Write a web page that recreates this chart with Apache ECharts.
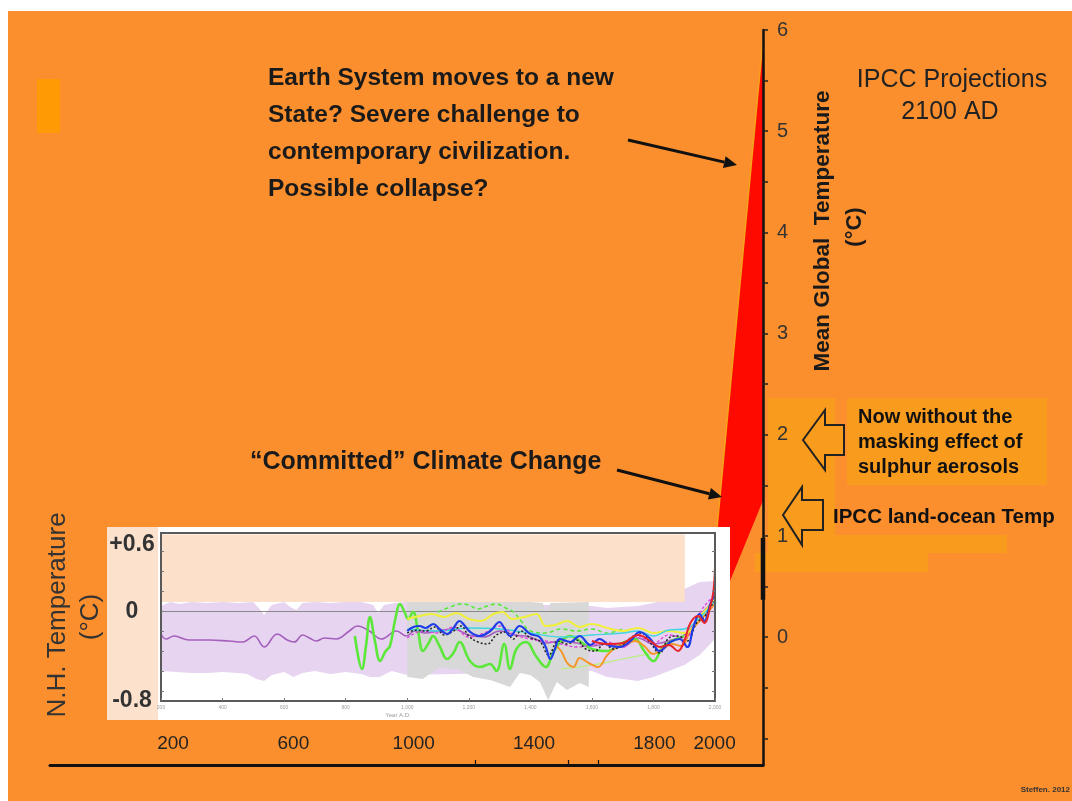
<!DOCTYPE html>
<html><head><meta charset="utf-8">
<script src="https://cdn.jsdelivr.net/npm/echarts@6/dist/echarts.min.js"></script>
<style>html,body{margin:0;padding:0;background:#fff;}#c{width:1072px;height:801px;}</style>
</head><body><div id="c"></div>
<script>
// ---------- tick labels ----------
const mainYLabels = [0, 1, 2, 3, 4, 5, 6];
const mainYTicks = [-1, -0.5, 0, 0.5, 1, 1.5, 2, 2.5, 3, 3.5, 4, 4.5, 5, 5.5, 6];
const mainXLabels = [200, 600, 1000, 1400, 1800, 2000];
const mainXMarks = [1205, 1513, 1613];
const insetXTicks = [200, 400, 600, 800, 1000, 1200, 1400, 1600, 1800, 2000];
const insetYTicks = [-0.8, -0.6, -0.4, -0.2, 0, 0.2, 0.4, 0.6];
const insetYLabels = [0.6, 0, -0.8];

// ---------- IPCC projection wedge (year, °C) ----------
const projUpper = [[2000, 0.76], [2100, 5.9]];
const projLower = [[2000, 0.17], [2100, 1.35]];
const observedRange = [[2100, 0.37], [2100, 0.98]];

// ---------- N.H. temperature reconstructions (year, °C) ----------
const purpleUpper = [[200,0.05],[230,0.09],[260,0.07],[300,0.09],[350,0.08],[400,0.09],[450,0.08],[500,0.09],[520,0.02],[535,-0.04],[560,0.06],[600,0.09],[620,0.04],[640,0.01],[660,0.08],[700,0.09],[750,0.08],[800,0.09],[850,0.09],[890,0.06],[905,-0.02],[925,0.06],[960,0.08],[1000,0.09],[1600,0.05],[1650,0.03],[1700,0.04],[1750,0.05],[1800,0.08],[1850,0.14],[1900,0.22],[1950,0.29],[2000,0.30]];
const purpleLower = [[200,-0.60],[250,-0.61],[300,-0.62],[350,-0.62],[400,-0.61],[450,-0.62],[480,-0.63],[510,-0.68],[535,-0.70],[560,-0.64],[600,-0.61],[630,-0.66],[660,-0.62],[700,-0.60],[750,-0.63],[800,-0.61],[850,-0.63],[880,-0.66],[910,-0.66],[950,-0.60],[1000,-0.64],[1600,-0.60],[1650,-0.66],[1700,-0.68],[1750,-0.70],[1800,-0.66],[1850,-0.60],[1900,-0.54],[1950,-0.44],[2000,-0.28]];
const grayUpper = [[1000,0.09],[1200,0.09],[1400,0.09],[1440,0.08],[1452,-0.01],[1466,0.08],[1590,0.09]];
const grayLower = [[1000,-0.66],[1050,-0.68],[1106,-0.56],[1171,-0.59],[1214,-0.66],[1269,-0.69],[1334,-0.76],[1366,-0.62],[1400,-0.64],[1431,-0.71],[1458,-0.89],[1486,-0.71],[1519,-0.79],[1561,-0.72],[1590,-0.76]];
const peachCover = [[203, 0.09, 1902, 0.765]];

const purpleLine = [[200,-0.23],[216,-0.28],[242,-0.25],[291,-0.29],[356,-0.29],[420,-0.30],[464,-0.31],[503,-0.25],[535,-0.36],[578,-0.23],[610,-0.29],[633,-0.31],[660,-0.24],[682,-0.27],[705,-0.30],[731,-0.27],[770,-0.28],[812,-0.20],[838,-0.15],[877,-0.20],[916,-0.28],[965,-0.20],[998,-0.25],[1024,-0.20],[1060,-0.22],[1100,-0.20],[1150,-0.18],[1200,-0.24],[1250,-0.26],[1300,-0.20],[1350,-0.24],[1400,-0.26],[1450,-0.32],[1500,-0.30],[1550,-0.32],[1600,-0.35],[1650,-0.33],[1700,-0.36],[1750,-0.27],[1800,-0.33],[1850,-0.30],[1900,-0.24],[1950,-0.05],[2000,0.12]];
const greenLine = [[830,-0.25],[853,-0.58],[866,-0.35],[879,-0.06],[895,-0.30],[912,-0.50],[930,-0.40],[944,-0.35],[960,-0.10],[977,0.07],[990,0.00],[1003,-0.08],[1019,-0.01],[1035,-0.20],[1051,-0.40],[1068,-0.33],[1084,-0.25],[1105,-0.35],[1129,-0.48],[1150,-0.42],[1170,-0.31],[1204,-0.50],[1236,-0.56],[1269,-0.53],[1290,-0.60],[1315,-0.33],[1334,-0.58],[1355,-0.38],[1386,-0.31],[1418,-0.45],[1450,-0.56],[1475,-0.41],[1500,-0.30],[1530,-0.25],[1560,-0.30],[1600,-0.38],[1650,-0.40],[1700,-0.32],[1740,-0.28],[1770,-0.40],[1800,-0.50],[1830,-0.36],[1860,-0.30],[1900,-0.25]];
const greenDashed = [[1100,-0.01],[1140,0.04],[1175,0.07],[1200,0.06],[1230,0.02],[1260,0.05],[1290,0.07],[1320,0.03],[1345,-0.01],[1370,-0.10],[1400,-0.20],[1450,-0.22],[1500,-0.18],[1550,-0.20],[1600,-0.18],[1650,-0.22],[1700,-0.18]];
const lightGreen = [[1500,-0.58],[1600,-0.54],[1700,-0.48],[1800,-0.42]];
const orangeLine = [[1480,-0.34],[1500,-0.40],[1520,-0.52],[1540,-0.56],[1560,-0.47],[1590,-0.52],[1620,-0.56],[1650,-0.44],[1680,-0.36],[1710,-0.33],[1740,-0.30],[1770,-0.35],[1800,-0.43],[1830,-0.38],[1860,-0.33],[1890,-0.35],[1920,-0.20],[1950,-0.10],[1980,0.00],[2000,0.08]];
const yellowLine = [[1000,-0.08],[1040,-0.05],[1080,-0.03],[1120,-0.06],[1160,-0.02],[1200,-0.08],[1240,-0.10],[1280,-0.03],[1310,-0.01],[1340,-0.08],[1380,-0.06],[1420,-0.03],[1450,-0.15],[1480,-0.14],[1520,-0.10],[1560,-0.16],[1600,-0.13],[1650,-0.17],[1700,-0.20],[1750,-0.17],[1800,-0.22],[1850,-0.20],[1900,-0.22],[1950,-0.06],[2000,0.12]];
const cyanLine = [[1000,-0.18],[1100,-0.20],[1200,-0.17],[1300,-0.18],[1400,-0.22],[1500,-0.26],[1600,-0.24],[1700,-0.22],[1750,-0.20],[1800,-0.25],[1850,-0.19],[1900,-0.18],[1950,-0.07],[2000,0.10]];
const magentaLine = [[1000,-0.27],[1050,-0.20],[1100,-0.22],[1150,-0.16],[1200,-0.26],[1250,-0.22],[1300,-0.15],[1350,-0.24],[1400,-0.28],[1450,-0.30],[1500,-0.33],[1550,-0.36],[1600,-0.34],[1650,-0.31],[1700,-0.36],[1750,-0.25],[1800,-0.32],[1850,-0.24],[1900,-0.27],[1950,-0.02],[1980,0.10],[2000,0.14]];
const blackDashed = [[1000,-0.22],[1030,-0.19],[1060,-0.20],[1090,-0.16],[1120,-0.24],[1150,-0.20],[1175,-0.15],[1200,-0.25],[1230,-0.31],[1260,-0.33],[1290,-0.24],[1320,-0.21],[1345,-0.28],[1370,-0.20],[1400,-0.27],[1430,-0.30],[1460,-0.44],[1490,-0.30],[1520,-0.33],[1550,-0.29],[1580,-0.38],[1610,-0.40],[1640,-0.33],[1670,-0.38],[1700,-0.34],[1730,-0.26],[1760,-0.22],[1790,-0.32],[1820,-0.42],[1850,-0.27],[1880,-0.25],[1910,-0.30],[1940,-0.12],[1965,-0.06],[1985,0.04],[2000,0.10]];
const blueLine = [[1000,-0.20],[1020,-0.16],[1040,-0.15],[1060,-0.17],[1085,-0.13],[1105,-0.18],[1130,-0.23],[1150,-0.17],[1170,-0.10],[1185,-0.14],[1205,-0.21],[1235,-0.25],[1270,-0.20],[1300,-0.11],[1315,-0.17],[1335,-0.25],[1365,-0.15],[1400,-0.23],[1430,-0.26],[1450,-0.36],[1465,-0.48],[1480,-0.38],[1495,-0.28],[1530,-0.31],[1560,-0.25],[1595,-0.34],[1625,-0.28],[1660,-0.35],[1690,-0.36],[1725,-0.30],[1755,-0.21],[1790,-0.28],[1820,-0.40],[1855,-0.31],[1885,-0.28],[1910,-0.36],[1930,-0.16],[1950,-0.03],[1965,-0.10],[1985,0.07],[2000,0.17]];
const redLine = [[1600,-0.30],[1650,-0.33],[1700,-0.32],[1750,-0.24],[1790,-0.30],[1820,-0.36],[1850,-0.34],[1880,-0.40],[1900,-0.30],[1920,-0.12],[1945,-0.05],[1965,-0.12],[1985,0.05],[1995,0.20],[2000,0.44]];

// ---------- helpers ----------
const FONT = 'Liberation Sans, Arial, sans-serif';
function band(upper, lower, color, xi, yi, z, clip) {
  return {
    type: 'custom', xAxisIndex: xi, yAxisIndex: yi, z: z, silent: true, clip: clip,
    data: [0],
    renderItem: function (params, api) {
      const pts = upper.map(p => api.coord(p)).concat(lower.slice().reverse().map(p => api.coord(p)));
      return { type: 'polygon', shape: { points: pts }, style: { fill: color } };
    }
  };
}
function line(data, color, width, dash, z) {
  return {
    type: 'line', xAxisIndex: 1, yAxisIndex: 1, data: data, smooth: 0.4, symbol: 'none', silent: true, z: z || 6,
    lineStyle: { color: color, width: width, type: dash || 'solid' }
  };
}
function txt(text, x, y, style, extra) {
  return Object.assign({
    type: 'text', x: x, y: y, z: 30, silent: true,
    style: Object.assign({ text: text, fill: '#1a1a1a', fontFamily: FONT, fontSize: 20, textAlign: 'left', textVerticalAlign: 'middle' }, style || {})
  }, extra || {});
}
function rect(x, y, w, h, fill, z) {
  return { type: 'rect', shape: { x: x, y: y, width: w, height: h }, style: { fill: fill }, z: z, silent: true };
}
function arrow(x1, y1, x2, y2) {
  const dx = x2 - x1, dy = y2 - y1, L = Math.sqrt(dx * dx + dy * dy), ux = dx / L, uy = dy / L;
  const hl = 13, hw = 6;
  const bx = x2 - ux * hl, by = y2 - uy * hl;
  return [
    { type: 'line', shape: { x1: x1, y1: y1, x2: bx, y2: by }, style: { stroke: '#111', lineWidth: 3 }, z: 30, silent: true },
    { type: 'polygon', shape: { points: [[x2, y2], [bx - uy * hw, by + ux * hw], [bx + uy * hw, by - ux * hw]] }, style: { fill: '#111' }, z: 30, silent: true }
  ];
}
function blockArrow(pts) {
  return { type: 'polygon', shape: { points: pts }, style: { fill: '#F99B1D', stroke: '#222', lineWidth: 2 }, z: 30, silent: true };
}

const chart = echarts.init(document.getElementById('c'), null, { renderer: 'canvas' });
const option = {
  animation: false,
  backgroundColor: '#FB8F2E',
  grid: [
    { left: 50, top: 30, width: 713, height: 735 },
    { left: 161, top: 533, width: 554, height: 168, show: true, backgroundColor: 'transparent', borderColor: '#5a5a5a', borderWidth: 2, z: 9 },
    { left: 714, top: 30, width: 49, height: 735 },
    { left: 161, top: 533, width: 554, height: 168 }
  ],
  xAxis: [
    {
      type: 'value', gridIndex: 0, min: -209, max: 2161, z: 5,
      axisLine: { show: true, onZero: false, lineStyle: { color: '#111', width: 3 } },
      axisTick: { show: true, inside: true, length: 5, customValues: mainXMarks, lineStyle: { color: '#111', width: 1.2 } },
      axisLabel: { show: true, inside: true, margin: 12, customValues: mainXLabels, color: '#222', fontSize: 19, fontFamily: FONT,
        formatter: v => String(v) },
      splitLine: { show: false }
    },
    {
      type: 'value', gridIndex: 1, min: 200, max: 2000, z: 9,
      axisLine: { show: false, onZero: false },
      axisTick: { show: true, inside: true, length: 3, customValues: insetXTicks, lineStyle: { color: '#777', width: 1 } },
      axisLabel: { show: true, margin: 4, customValues: insetXTicks, color: '#9a9a9a', fontSize: 5, fontFamily: FONT,
        formatter: v => v >= 1000 ? v.toLocaleString('en-US') : String(v) },
      splitLine: { show: false }
    },
    { type: 'value', gridIndex: 2, min: 2000, max: 2100, show: false },
    { type: 'value', gridIndex: 3, min: 200, max: 2000, show: false }
  ],
  yAxis: [
    {
      type: 'value', gridIndex: 0, position: 'right', min: -1.263, max: 6, z: 5,
      axisLine: { show: true, onZero: false, lineStyle: { color: '#111', width: 2.5 } },
      axisTick: { show: true, length: 5, customValues: mainYTicks, lineStyle: { color: '#222', width: 1.5 } },
      axisLabel: { show: true, margin: 14, customValues: mainYLabels, color: '#333', fontSize: 20, fontFamily: FONT },
      splitLine: { show: false }
    },
    {
      type: 'value', gridIndex: 1, position: 'left', min: -0.9, max: 0.78, z: 9,
      axisLine: { show: false, onZero: false },
      axisTick: { show: true, inside: true, length: 3, customValues: insetYTicks, lineStyle: { color: '#777' } },
      axisLabel: { show: false }, splitLine: { show: false }
    },
    {
      type: 'value', gridIndex: 1, position: 'right', min: -0.9, max: 0.78, z: 9,
      axisLine: { show: false, onZero: false },
      axisTick: { show: true, inside: true, length: 3, customValues: insetYTicks, lineStyle: { color: '#777' } },
      axisLabel: { show: false }, splitLine: { show: false }
    },
    { type: 'value', gridIndex: 2, min: -1.263, max: 6, show: false },
    {
      type: 'value', gridIndex: 3, position: 'left', min: -0.8, max: 0.70, z: 20,
      axisLine: { show: false, onZero: false }, axisTick: { show: false }, splitLine: { show: false },
      axisLabel: { show: true, customValues: insetYLabels, align: 'center', margin: 29, color: '#333', fontSize: 23, fontWeight: 'bold', fontFamily: FONT,
        formatter: v => v > 0 ? '+' + v : (v === 0 ? '0' : v.toFixed(1)) }
    }
  ],
  series: [
    band(projUpper, projLower, '#FE0A00', 2, 3, 2, false),
    { type: 'line', xAxisIndex: 2, yAxisIndex: 3, data: projUpper, symbol: 'none', silent: true, z: 2,
      lineStyle: { color: '#F7A21B', width: 1.5 } },
    { type: 'line', xAxisIndex: 2, yAxisIndex: 3, data: observedRange, symbol: 'none', silent: true, z: 6, clip: false,
      lineStyle: { color: '#111', width: 4.5 } },
    band(purpleUpper, purpleLower, '#E6D4F1', 1, 1, 4, true),
    band(grayUpper, grayLower, '#D8D8D8', 1, 1, 4, true),
    { type: 'line', xAxisIndex: 1, yAxisIndex: 1, data: [], z: 5, silent: true,
      markLine: { silent: true, symbol: 'none', label: { show: false }, lineStyle: { color: '#8a8a8a', width: 1, type: 'solid' }, data: [{ yAxis: 0 }] } },
    line(purpleLine, '#A55FBC', 1.6),
    line(lightGreen, '#B9F07A', 1.2),
    line(greenDashed, '#5BE83A', 1.6, [4, 3]),
    line(greenLine, '#5BE83A', 2.6),
    line(orangeLine, '#F5962A', 2),
    line(yellowLine, '#F0F03A', 2),
    line(cyanLine, '#3FD6E0', 1.3),
    line(magentaLine, '#E040E0', 1.3, [3, 2]),
    line(blackDashed, '#222222', 1.5, [2, 2]),
    line(blueLine, '#1F3CE8', 2.2),
    line(redLine, '#E8242A', 2),
    {
      type: 'custom', xAxisIndex: 1, yAxisIndex: 1, z: 8, silent: true, clip: false, data: peachCover,
      renderItem: function (params, api) {
        const p0 = api.coord([api.value(0), api.value(3)]);
        const p1 = api.coord([api.value(2), api.value(1)]);
        return { type: 'rect', shape: { x: p0[0], y: p0[1], width: p1[0] - p0[0], height: p1[1] - p0[1] }, style: { fill: '#FCE0CA' } };
      }
    }
  ],
  graphic: {
    elements: [
      rect(0, 0, 1072, 11, '#FFFFFF', 0),
      rect(0, 0, 8, 801, '#FFFFFF', 0),
      rect(37, 79, 23, 54, '#FF9A05', 1),
      rect(768, 398, 67, 155, '#F99B1D', 1),
      rect(847, 398, 200, 87, '#F99B1D', 1),
      rect(835, 535, 172, 18, '#F99B1D', 1),
      rect(755, 553, 173, 19, '#F99B1D', 1),
      rect(107, 527, 51, 193, '#FCE1CD', 3),
      rect(158, 527, 572, 193, '#FFFFFF', 3),
      txt('Earth System moves to a new\nState? Severe challenge to\ncontemporary civilization.\nPossible collapse?', 268, 59.5,
        { fontSize: 24.5, fontWeight: 'bold', lineHeight: 37, textVerticalAlign: 'top' }),
      txt('\u201CCommitted\u201D Climate Change', 250, 462, { fontSize: 25, fontWeight: 'bold' }),
      txt('IPCC Projections', 952, 80, { fontSize: 25, textAlign: 'center', fill: '#222' }),
      txt('2100 AD', 950, 112, { fontSize: 25, textAlign: 'center', fill: '#222' }),
      txt('Mean Global  Temperature', 0, 0, { fontSize: 22.5, fontWeight: 'bold', textAlign: 'center' }, { x: 823, y: 231, rotation: Math.PI / 2 }),
      txt('(\u00B0C)', 0, 0, { fontSize: 22, fontWeight: 'bold', textAlign: 'center' }, { x: 855, y: 227, rotation: Math.PI / 2 }),
      txt('N.H. Temperature', 0, 0, { fontSize: 26, textAlign: 'center', fill: '#333' }, { x: 58, y: 615, rotation: Math.PI / 2 }),
      txt('(\u00B0C)', 0, 0, { fontSize: 26, textAlign: 'center', fill: '#333' }, { x: 91, y: 617, rotation: Math.PI / 2 }),
      txt('Now without the\nmasking effect of\nsulphur aerosols', 858, 404.5, { fontSize: 20, fontWeight: 'bold', lineHeight: 25, textVerticalAlign: 'top', fill: '#111' }),
      txt('IPCC land-ocean Temp', 833, 517, { fontSize: 20.5, fontWeight: 'bold', fill: '#111' }),
      txt('Steffen. 2012', 1070, 790, { fontSize: 8, fontWeight: 'bold', textAlign: 'right', fill: '#333' }),
      txt('Year A.D.', 398, 715, { fontSize: 6, textAlign: 'center', fill: '#999' })
    ]
      .concat(arrow(628, 140, 737, 165))
      .concat(arrow(617, 470, 722, 497))
      .concat([
        blockArrow([[803, 440], [825, 410], [825, 425], [844, 425], [844, 455], [825, 455], [825, 470]]),
        blockArrow([[783, 515], [802, 487], [802, 500], [823, 500], [823, 530], [802, 530], [802, 545]])
      ])
  }
};
chart.setOption(option);
</script>
</body></html>
